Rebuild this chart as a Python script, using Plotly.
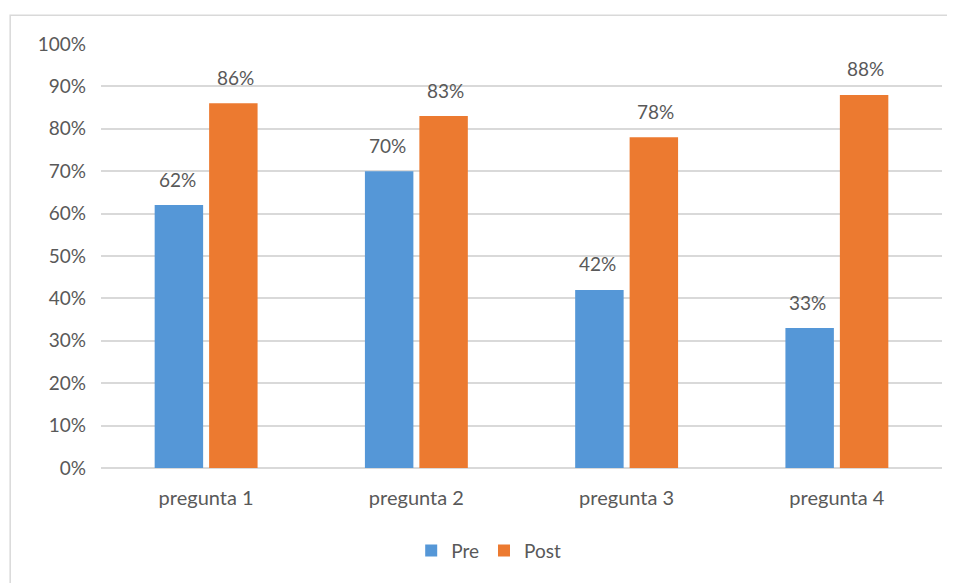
import plotly.graph_objects as go

categories = ["pregunta 1", "pregunta 2", "pregunta 3", "pregunta 4"]
pre = [0.62, 0.70, 0.42, 0.33]
post = [0.86, 0.83, 0.78, 0.88]
tick_vals = [i / 10 for i in range(11)]
tick_text = [f"{i*10}%" for i in range(11)]

FONT = "Lato"
TXT = "#595959"

fig = go.Figure()
fig.add_trace(go.Bar(name="Pre", x=categories, y=pre,
                     marker=dict(color="#5597D7", line=dict(width=0))))
fig.add_trace(go.Bar(name="Post", x=categories, y=post,
                     marker=dict(color="#EC7A30", line=dict(width=0))))

annotations = []
for vals, shift in ((pre, -29), (post, 29)):
    for c, v in zip(categories, vals):
        annotations.append(dict(x=c, y=v, xref="x", yref="y", text=f"{round(v*100)}%",
                                showarrow=False, xshift=shift, yshift=26, yanchor="middle",
                                font=dict(family=FONT, size=19, color=TXT)))

fig.update_layout(
    width=947, height=575,
    margin=dict(l=93, r=13, t=36, b=115),
    paper_bgcolor="white", plot_bgcolor="white",
    barmode="group", bargap=0.482, bargroupgap=0.11,
    font=dict(family=FONT, size=19, color=TXT),
    showlegend=True,
    legend=dict(orientation="h", x=0.461, xanchor="center", y=-0.195, yanchor="middle",
                font=dict(family=FONT, size=19, color=TXT), itemwidth=30,
                traceorder="normal"),
    xaxis=dict(showgrid=False, showline=False, ticks="", tickfont=dict(size=20, color=TXT),
               ticklabelstandoff=16),
    yaxis=dict(range=[0, 1], tickvals=tick_vals, ticktext=tick_text, showgrid=True,
               gridcolor="#D9D9D9", gridwidth=1.5, zeroline=True, zerolinecolor="#D9D9D9",
               zerolinewidth=1.5, showline=False, ticks="", ticklabelstandoff=14,
               tickfont=dict(size=19, color=TXT)),
    annotations=annotations,
    shapes=[dict(type="rect", xref="paper", yref="paper", x0=-0.108, x1=1.05, y0=-0.4, y1=1.068,
                 line=dict(color="#D9D9D9", width=1.5), fillcolor="rgba(0,0,0,0)", layer="below")],
)

fig.write_html("out.html")
